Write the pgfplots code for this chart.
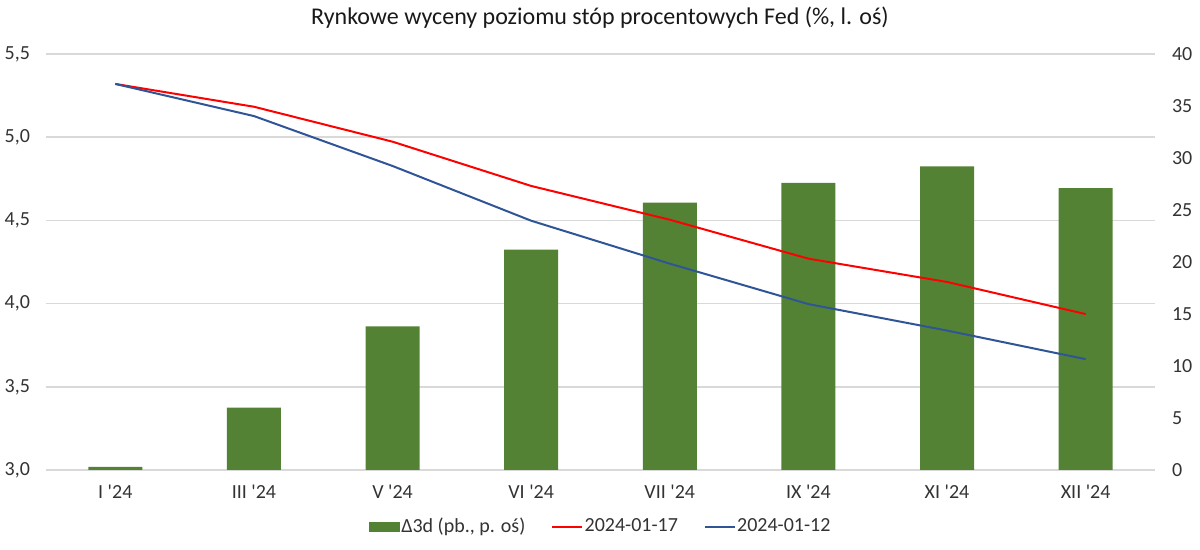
\documentclass[border=0pt]{standalone}
\usepackage{fontspec}
\setmainfont{Carlito}[Ligatures=TeXOff]
\usepackage{pgfplots}
\usepackage{pgfplotstable}
\pgfplotsset{compat=1.18}
\definecolor{barg}{RGB}{84,130,53}
\definecolor{lred}{RGB}{255,0,0}
\definecolor{lblue}{RGB}{47,85,151}
\definecolor{gridc}{RGB}{217,217,217}
\definecolor{txt}{RGB}{51,51,51}

\pgfplotstableread{
x bar red blue
0 0.3 5.32 5.32
1 6.0 5.183 5.127
2 13.8 4.973 4.827
3 21.2 4.707 4.498
4 25.7 4.504 4.240
5 27.6 4.270 3.997
6 29.2 4.130 3.838
7 27.1 3.937 3.666
}\data

\pgfplotsset{base/.style={
  scale only axis, width=554.5pt, height=208pt,
  xmin=-0.5, xmax=7.5,
  at={(23pt,40pt)}, anchor=south west,
  tick style={draw=none},
  axis line style={draw=none},
  ticklabel style={font=\fontsize{10}{12}\selectfont, text=txt},
  /pgf/number format/assume math mode=true,
}}

\begin{document}
\begin{tikzpicture}
\path[use as bounding box] (0,0) rectangle (600pt,275pt);
% axis 1: grid, left ticks, x labels
\begin{axis}[base,
  ymin=3, ymax=5.5, ytick={3,3.5,4,4.5,5,5.5},
  ymajorgrids, grid style={gridc, line width=0.75pt},
  xtick={0,...,7},
  xticklabels={I '24, III '24, V '24, VI '24, VII '24, IX '24, XI '24, XII '24},
  xticklabel style={yshift=-4pt},
  yticklabel style={xshift=-4.5pt, /pgf/number format/.cd, fixed, fixed zerofill, precision=1, use comma},
]
\addplot[draw=none, forget plot] coordinates {(0,3) (7,3)};
\end{axis}
% axis 2: bars on right axis
\begin{axis}[base,
  ymin=0, ymax=40, ytick={0,5,...,40},
  axis y line*=right, axis x line=none,
  yticklabel style={xshift=5pt, anchor=west},
  ybar, bar width=27pt,
]
\addplot[fill=barg, draw=none] table[x=x, y=bar] {\data};
\end{axis}
% axis 3: lines + legend
\begin{axis}[base,
  ymin=3, ymax=5.5, hide axis,
  legend style={at={(axis description cs:0.5,-0.137)}, anchor=center, draw=none,
    font=\fontsize{10}{12}\selectfont, text=txt,
    nodes={inner xsep=0.8pt},
    /tikz/every even column/.append style={column sep=12pt},
    /tikz/every odd column/.append style={column sep=0pt}},
  legend columns=3,
  legend image code/.code={\draw[#1] (0pt,0pt) -- (15pt,0pt);},
]
\addlegendimage{legend image code/.code={\fill[barg] (0pt,-2.2pt) rectangle (15pt,2.2pt);}}
\addlegendentry{Δ3d (pb., p. oś)}
\addplot[lred, line width=1pt] table[x=x, y=red] {\data};
\addlegendentry{2024-01-17}
\addplot[lblue, line width=1pt] table[x=x, y=blue] {\data};
\addlegendentry{2024-01-12}
\end{axis}
\node[font=\fontsize{12}{14}\selectfont, text=black!90] at (300pt,266pt) {Rynkowe wyceny poziomu stóp procentowych Fed (\%, l. oś)};
\end{tikzpicture}
\end{document}
